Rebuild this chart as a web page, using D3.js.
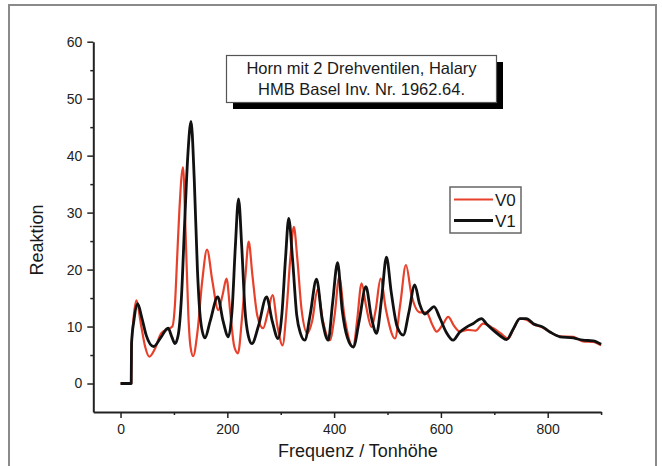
<!DOCTYPE html>
<html>
<head>
<meta charset="utf-8">
<script src="https://cdn.jsdelivr.net/npm/d3@7"></script>
<style>
  html, body { margin: 0; padding: 0; background: #fff; }
  svg { display: block; font-family: "Liberation Sans", Arial, sans-serif; }
</style>
</head>
<body>
<div id="chart"></div>
<script>
// Daten
const titleLines = ["Horn mit 2 Drehventilen, Halary", "HMB Basel Inv. Nr. 1962.64."];
const seriesNames = ["V0", "V1"];
const xTicks = [0, 200, 400, 600, 800];
const yTicks = [0, 10, 20, 30, 40, 50, 60];

const v0Freq = [0, 20, 20.6, 24, 30, 38, 46, 54, 64, 76, 88, 97, 102, 106, 110, 117, 122, 127, 131, 136,
  144, 153, 162, 172, 183, 191, 198.5, 206, 213, 220, 227, 234, 240, 247, 256, 267, 276, 284.7, 294, 303.5,
  311, 318, 324.6, 331, 339, 350, 359, 369, 379, 392, 401, 409.5, 419, 436, 443, 451.5, 460, 470, 478, 487,
  497, 514, 524, 534.5, 545, 561, 573, 583, 592, 603, 613.7, 624, 635.6, 650, 665, 679, 698, 712, 726, 737,
  748, 760, 773, 791, 805, 823, 848, 866, 885, 900];
const v0React = [0, 0, 6, 11, 14.6, 10.5, 6.5, 4.7, 6, 8.8, 9.5, 10, 14, 22, 30, 38, 26, 12, 6.5, 4.8,
  9, 18, 23.5, 18, 12.9, 15.5, 18.4, 12, 6.5, 5.3, 11, 19, 24.9, 19, 12, 9.7, 12.5, 15.5, 10, 6.7,
  13, 22, 27.5, 22, 13, 8.8, 11, 16.5, 11, 7.6, 12, 18.7, 12, 6.4, 11, 17.6, 13.5, 9.9, 13, 18.4,
  13, 7.9, 14, 20.8, 15.5, 12.5, 12.5, 10.5, 9.1, 10.3, 11.7, 10.2, 9.1, 9.4, 9.3, 10.5, 9.7, 8.8, 7.9, 9.8,
  11.4, 11.2, 10.4, 9.8, 9, 8.3, 8.2, 7.4, 7.3, 6.7];

const v1Freq = [0, 20, 20.6, 25, 32, 40, 48, 62, 75, 89, 96, 102, 108, 114, 120, 126, 132, 138, 144, 150,
  158, 168, 182, 192, 202, 209, 215, 221, 227, 233, 239, 246, 258, 273.5, 284, 295, 302, 309, 315, 322,
  330, 337, 345, 355, 367, 378, 389, 397, 406.5, 415, 425, 436, 447, 459.5, 470, 479.5, 489, 498, 507, 518,
  529.5, 540, 551, 560, 570, 578, 587, 598, 610, 623, 635, 648, 660, 676, 686, 700, 712, 723, 735, 748,
  760, 773, 791, 805, 823, 848, 866, 885, 900];
const v1React = [0, 0, 7, 11, 14, 11.5, 8.5, 6.5, 8, 9.7, 8.2, 7, 8.5, 15, 28, 40, 46, 36, 20, 11,
  8, 11, 15.2, 11, 8.2, 13, 24, 32.4, 24, 13, 8.5, 7, 10, 15.2, 11, 7.9, 12, 22, 29, 22,
  12, 8.8, 7.6, 12, 18.3, 11, 7.6, 14, 21.2, 13, 8, 6.4, 11, 17, 11.5, 8.8, 15, 22.2, 16, 10,
  8.5, 12.5, 17.3, 14, 12.2, 12.8, 13.5, 11.5, 9, 7.6, 9, 9.9, 10.5, 11.4, 10.4, 9.2, 8.3, 7.7, 9.5, 11.4,
  11.4, 10.5, 9.9, 9, 8.2, 8, 7.6, 7.5, 6.9];

const width = 662, height = 466;
const svg = d3.select("#chart").append("svg")
  .attr("width", width)
  .attr("height", height);

// Rahmen
svg.append("rect")
  .attr("x", 9).attr("y", 5)
  .attr("width", 647).attr("height", 470)
  .attr("fill", "#fff")
  .attr("stroke", "#8a8a8a")
  .attr("stroke-width", 2);

const x = d3.scaleLinear().domain([-51, 900]).range([93.3, 601.1]);
const y = d3.scaleLinear().domain([-5, 60]).range([412, 41.7]);

// Nebenstriche
svg.append("g")
  .attr("transform", "translate(93.3,0)")
  .call(d3.axisLeft(y).tickValues([5, 15, 25, 35, 45, 55]).tickSize(3).tickFormat(""))
  .call(g => g.select(".domain").remove())
  .selectAll("line").attr("stroke", "#222").attr("stroke-width", 1.5);
svg.append("g")
  .attr("transform", "translate(0,412)")
  .call(d3.axisBottom(x).tickValues([100, 300, 500, 700, 900]).tickSize(3).tickFormat(""))
  .call(g => g.select(".domain").remove())
  .selectAll("line").attr("stroke", "#222").attr("stroke-width", 1.5);

// Hauptachsen
const yAxis = svg.append("g")
  .attr("transform", "translate(93.3,0)")
  .call(d3.axisLeft(y).tickValues(yTicks).tickSize(6).tickSizeOuter(0).tickPadding(5));
const xAxis = svg.append("g")
  .attr("transform", "translate(0,412)")
  .call(d3.axisBottom(x).tickValues(xTicks).tickSize(6).tickSizeOuter(0).tickPadding(6));

[yAxis, xAxis].forEach(a => {
  a.select(".domain").attr("stroke", "#222").attr("stroke-width", 2);
  a.selectAll(".tick line").attr("stroke", "#222").attr("stroke-width", 1.5);
  a.selectAll(".tick text")
    .style("font-size", "14px")
    .style("font-family", "'Liberation Sans', Arial, sans-serif")
    .attr("fill", "#222");
});

// Achsentitel
svg.append("text")
  .attr("x", 358).attr("y", 457)
  .attr("text-anchor", "middle")
  .style("font-size", "18px")
  .attr("fill", "#1a1a1a")
  .text("Frequenz / Tonhöhe");

svg.append("text")
  .attr("transform", "translate(43,240) rotate(-90)")
  .attr("text-anchor", "middle")
  .style("font-size", "18px")
  .attr("fill", "#1a1a1a")
  .text("Reaktion");

// Kurven
const line = d3.line()
  .x(d => x(d[0]))
  .y(d => y(d[1]))
  .curve(d3.curveMonotoneX);

const v0 = d3.zip(v0Freq, v0React);
const v1 = d3.zip(v1Freq, v1React);

svg.append("path")
  .datum(v0)
  .attr("d", line)
  .attr("fill", "none")
  .attr("stroke", "#e8412b")
  .attr("stroke-width", 2.2)
  .attr("stroke-linejoin", "round");

svg.append("path")
  .datum(v1)
  .attr("d", line)
  .attr("fill", "none")
  .attr("stroke", "#111")
  .attr("stroke-width", 2.8)
  .attr("stroke-linejoin", "round");

// Titelkasten mit Schatten
svg.append("rect")
  .attr("x", 233).attr("y", 62)
  .attr("width", 270).attr("height", 47)
  .attr("fill", "#000");
svg.append("rect")
  .attr("x", 226.5).attr("y", 55.5)
  .attr("width", 270).attr("height", 47)
  .attr("fill", "#fff")
  .attr("stroke", "#555")
  .attr("stroke-width", 1.2);
svg.selectAll(".title")
  .data(titleLines)
  .enter()
  .append("text")
  .attr("class", "title")
  .attr("x", 361.5)
  .attr("y", (d, i) => 74 + i * 21)
  .attr("text-anchor", "middle")
  .style("font-size", "16.5px")
  .attr("fill", "#1a1a1a")
  .text(d => d);

// Legende
const legend = svg.append("g");
legend.append("rect")
  .attr("x", 450).attr("y", 187)
  .attr("width", 71).attr("height", 46)
  .attr("fill", "#fff")
  .attr("stroke", "#666")
  .attr("stroke-width", 1.5);
const colors = ["#e8412b", "#111"];
seriesNames.forEach((name, i) => {
  const ly = 199.5 + i * 21;
  legend.append("line")
    .attr("x1", 454).attr("x2", 493)
    .attr("y1", ly).attr("y2", ly)
    .attr("stroke", colors[i])
    .attr("stroke-width", i === 0 ? 2.2 : 2.8);
  legend.append("text")
    .attr("x", 495).attr("y", ly + 6)
    .style("font-size", "17px")
    .attr("fill", "#1a1a1a")
    .text(name);
});
</script>
</body>
</html>
